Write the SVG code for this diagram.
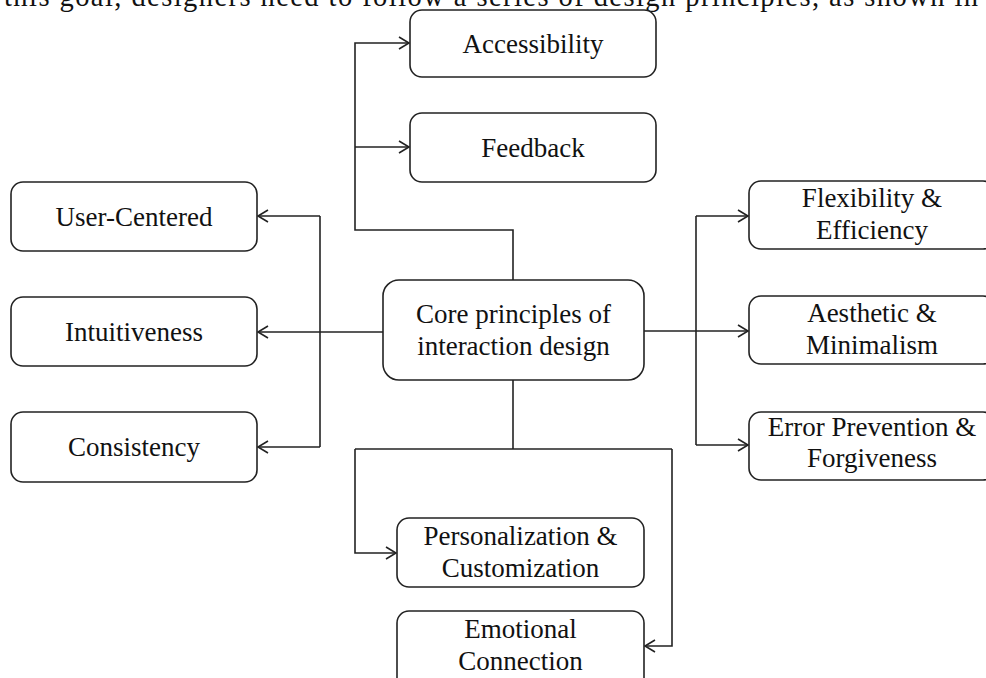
<svg xmlns="http://www.w3.org/2000/svg" width="986" height="678" viewBox="0 0 986 678">
<defs>
<style>
.box{fill:#fff;stroke:#222;stroke-width:1.6}
.t{font-family:"Liberation Serif","Times New Roman",serif;font-size:27px;fill:#111;text-anchor:middle}
.c{fill:none;stroke:#222;stroke-width:1.6}
.a{marker-end:url(#arr)}
</style>
<marker id="arr" markerUnits="userSpaceOnUse" markerWidth="14" markerHeight="14" refX="11" refY="7" orient="auto">
<path d="M1,1 L11,7 L1,13" fill="none" stroke="#222" stroke-width="1.6"/>
</marker>
</defs>
<rect width="986" height="678" fill="#fff"/>
<text x="4" y="6" font-family="Liberation Serif, serif" font-size="28.5" fill="#111" textLength="974" lengthAdjust="spacing">this goal, designers need to follow a series of design principles, as shown in</text>
<g id="connectors">
<path class="c a" d="M513,280 V230 H355 V43 H409"/>
<path class="c a" d="M355,147 H409"/>
<path class="c a" d="M383,332 H258"/>
<path class="c" d="M320,216 V447"/>
<path class="c a" d="M320,216 H258"/>
<path class="c a" d="M320,447 H258"/>
<path class="c a" d="M644,331 H748"/>
<path class="c" d="M696,216 V445"/>
<path class="c a" d="M696,216 H748"/>
<path class="c a" d="M696,445 H748"/>
<path class="c" d="M513,380 V449"/>
<path class="c" d="M355,449 H672"/>
<path class="c a" d="M355,449 V553 H396"/>
<path class="c a" d="M672,449 V646 H645"/>
</g>
<g id="accessibility"><rect class="box" x="410" y="10" width="246" height="67" rx="12"/><text class="t" x="533" y="53">Accessibility</text></g>
<g id="feedback"><rect class="box" x="410" y="113" width="246" height="69" rx="12"/><text class="t" x="533" y="157">Feedback</text></g>
<g id="user-centered"><rect class="box" x="11" y="182" width="246" height="69" rx="12"/><text class="t" x="134" y="226">User-Centered</text></g>
<g id="intuitiveness"><rect class="box" x="11" y="297" width="246" height="69" rx="12"/><text class="t" x="134" y="341">Intuitiveness</text></g>
<g id="consistency"><rect class="box" x="11" y="412" width="246" height="70" rx="12"/><text class="t" x="134" y="456">Consistency</text></g>
<g id="core"><rect class="box" x="383" y="280" width="261" height="100" rx="16"/><text class="t" x="513.5" y="323">Core principles of</text><text class="t" x="513.5" y="355">interaction design</text></g>
<g id="flexibility"><rect class="box" x="749" y="181" width="246" height="68" rx="12"/><text class="t" x="872" y="207">Flexibility &amp;</text><text class="t" x="872" y="239">Efficiency</text></g>
<g id="aesthetic"><rect class="box" x="749" y="296" width="246" height="68" rx="12"/><text class="t" x="872" y="322">Aesthetic &amp;</text><text class="t" x="872" y="354">Minimalism</text></g>
<g id="error"><rect class="box" x="749" y="412" width="246" height="68" rx="12"/><text class="t" x="872" y="436">Error Prevention &amp;</text><text class="t" x="872" y="467">Forgiveness</text></g>
<g id="personalization"><rect class="box" x="397" y="518" width="247" height="69" rx="12"/><text class="t" x="520.5" y="545">Personalization &amp;</text><text class="t" x="520.5" y="577">Customization</text></g>
<g id="emotional"><rect class="box" x="397" y="611" width="247" height="80" rx="12"/><text class="t" x="520.5" y="638">Emotional</text><text class="t" x="520.5" y="670">Connection</text></g>
</svg>
